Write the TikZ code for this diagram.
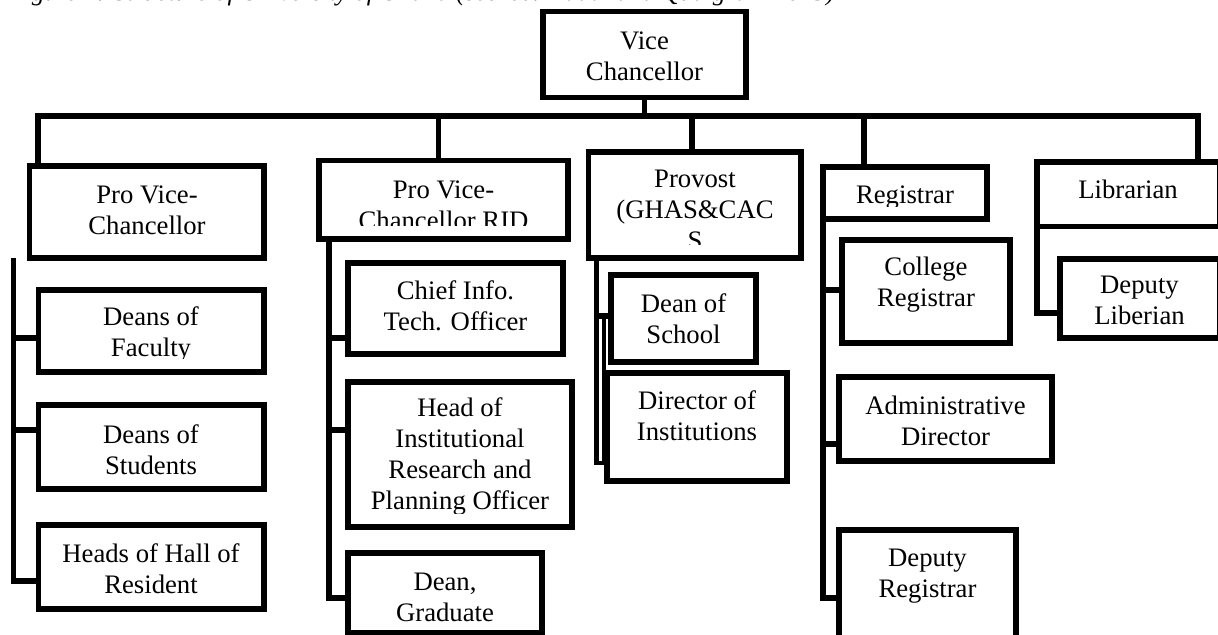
\documentclass[tikz,border=0pt]{standalone}
\usepackage{fontspec}
\setmainfont{Liberation Serif}
\usetikzlibrary{fit}

\begin{document}
\begin{tikzpicture}[y=0.50pt, x=0.50pt, yscale=-1, inner sep=0pt, outer sep=0pt,
  orgbox/.style={draw=black, line width=2.75pt, rectangle, inner sep=0pt},
  orgtext/.style={anchor=base, align=center, font=\fontsize{13.35}{15.5}\selectfont},
  link/.style={draw=black, line width=2.75pt, line join=miter, line cap=butt}]
\useasboundingbox (0,0) rectangle (1218,635);
\node[anchor=base west, font=\fontsize{12.8}{15}\selectfont\itshape] (caption) at (9,1)
  {Figure 1: Structure of University of Ghana (source: Addai and Quaigrain 2015)};

\node[orgbox, fit={(543,11.5) (746,97.7)}] (vc) {};
\node[orgbox, fit={(29.6,166) (264,258)}] (pvc) {};
\node[orgbox, fit={(319,160.5) (568,239)}] (rid) {};
\node[orgbox, fit={(588.5,152) (801,258)}] (prov) {};
\node[orgbox, fit={(823,167) (987,219)}] (reg) {};
\node[orgbox, fit={(1037,162) (1219.5,226.5)}] (lib) {};
\node[orgbox, fit={(38.5,290) (264,372)}] (fac) {};
\node[orgbox, fit={(38.5,405) (264,489)}] (stu) {};
\node[orgbox, fit={(38.5,525) (264,609)}] (hall) {};
\node[orgbox, fit={(348,263) (563,354)}] (cito) {};
\node[orgbox, fit={(348,382) (572,527)}] (irp) {};
\node[orgbox, fit={(348,553) (542,633)}] (grad) {};
\node[orgbox, fit={(611,275) (756,362)}] (school) {};
\node[orgbox, fit={(607,373) (787,481)}] (inst) {};
\node[orgbox, fit={(842,240) (1010,343)}] (creg) {};
\node[orgbox, fit={(839,377) (1052,461)}] (adm) {};
\node[orgbox, fit={(839,530) (1016,650)}] (dreg) {};
\node[orgbox, fit={(1060,259) (1219.5,338)}] (dlib) {};

\node[orgtext] (vc-t) at (644.5,81) {Vice\\Chancellor};
\node[orgtext] (pvc-t) at (147,235) {Pro Vice-\\Chancellor};
\begin{scope}
  \clip (319,160.5) rectangle (568,226);
  \node[orgtext] (rid-t) at (443.5,230) {Pro Vice-\\Chancellor RID};
\end{scope}
\begin{scope}
  \clip (588.5,152) rectangle (801,245);
  \node[orgtext] (prov-t) at (695,250) {Provost\\(GHAS\&CAC\\S};
\end{scope}
\begin{scope}
  \clip (823,167) rectangle (987,207);
  \node[orgtext] (reg-t) at (905,203.5) {Registrar};
\end{scope}
\node[orgtext] (lib-t) at (1128,199) {Librarian};
\begin{scope}
  \clip (38.5,290) rectangle (264,359);
  \node[orgtext] (fac-t) at (151,357) {Deans of\\Faculty};
\end{scope}
\node[orgtext] (stu-t) at (151,474) {Deans of\\Students};
\node[orgtext] (hall-t) at (151,593) {Heads of Hall of\\Resident};
\node[orgtext] (cito-t) at (455.5,331) {Chief Info.\\Tech. Officer};
\begin{scope}
  \clip (348,382) rectangle (572,513);
  \node[orgtext] (irp-t) at (460,509) {Head of\\Institutional\\Research and\\Planning Officer};
\end{scope}
\node[orgtext] (grad-t) at (445,621) {Dean,\\Graduate};
\node[orgtext] (school-t) at (683.5,344) {Dean of\\School};
\node[orgtext] (inst-t) at (697,440) {Director of\\Institutions};
\node[orgtext] (creg-t) at (926,307) {College\\Registrar};
\node[orgtext] (adm-t) at (945.5,445) {Administrative\\Director};
\node[orgtext] (dreg-t) at (927.5,597) {Deputy\\Registrar};
\node[orgtext] (dlib-t) at (1139.5,325) {Deputy\\Liberian};

\coordinate (bl) at (38,116);
\coordinate (br) at (1198,116);
\coordinate (tap-rid) at (438.5,116);
\coordinate (tap-prov) at (692,116);
\coordinate (tap-reg) at (864,116);
\draw[link] (bl |- pvc.north) -- (bl) -- (br) -- (br |- lib.north);
\draw[link] (vc.south) -- (vc.south |- bl);
\draw[link] (tap-rid) -- (tap-rid |- rid.north);
\draw[link] (tap-prov) -- (tap-prov |- prov.north);
\draw[link] (tap-reg) -- (tap-reg |- reg.north);

\coordinate (sp-pvc) at (13.6,258);
\coordinate (y-fac) at (0,338);
\coordinate (y-stu) at (0,430);
\coordinate (y-hall) at (0,581);
\draw[link] (sp-pvc) |- (hall.west |- y-hall);
\draw[link] (sp-pvc |- y-fac) -- (fac.west |- y-fac);
\draw[link] (sp-pvc |- y-stu) -- (stu.west |- y-stu);

\coordinate (sp-rid) at (329,239);
\coordinate (y-cito) at (0,338);
\coordinate (y-irp) at (0,430);
\coordinate (y-grad) at (0,598);
\draw[link] (sp-rid) |- (grad.west |- y-grad);
\draw[link] (sp-rid |- y-cito) -- (cito.west |- y-cito);
\draw[link] (sp-rid |- y-irp) -- (irp.west |- y-irp);

\coordinate (sp-prov) at (596.5,258);
\coordinate (sp-prov2) at (604,316);
\coordinate (y-school) at (0,316);
\coordinate (y-inst) at (0,463);
\draw[link, line width=2.3pt] (sp-prov) |- (inst.west |- y-inst);
\draw[link] (sp-prov |- y-school) -- (school.west |- y-school);
\draw[link, line width=2.3pt] (sp-prov2) |- ([yshift=-1pt]inst.west |- y-inst);

\coordinate (y-creg) at (0,290);
\coordinate (y-adm) at (0,444);
\coordinate (y-dreg) at (0,598);
\draw[link] (reg.south west) |- (dreg.west |- y-dreg);
\draw[link] (reg.south west |- y-creg) -- (creg.west |- y-creg);
\draw[link] (reg.south west |- y-adm) -- (adm.west |- y-adm);

\coordinate (y-dlib) at (0,313);
\draw[link] (lib.south west) |- (dlib.west |- y-dlib);
\end{tikzpicture}
\end{document}
